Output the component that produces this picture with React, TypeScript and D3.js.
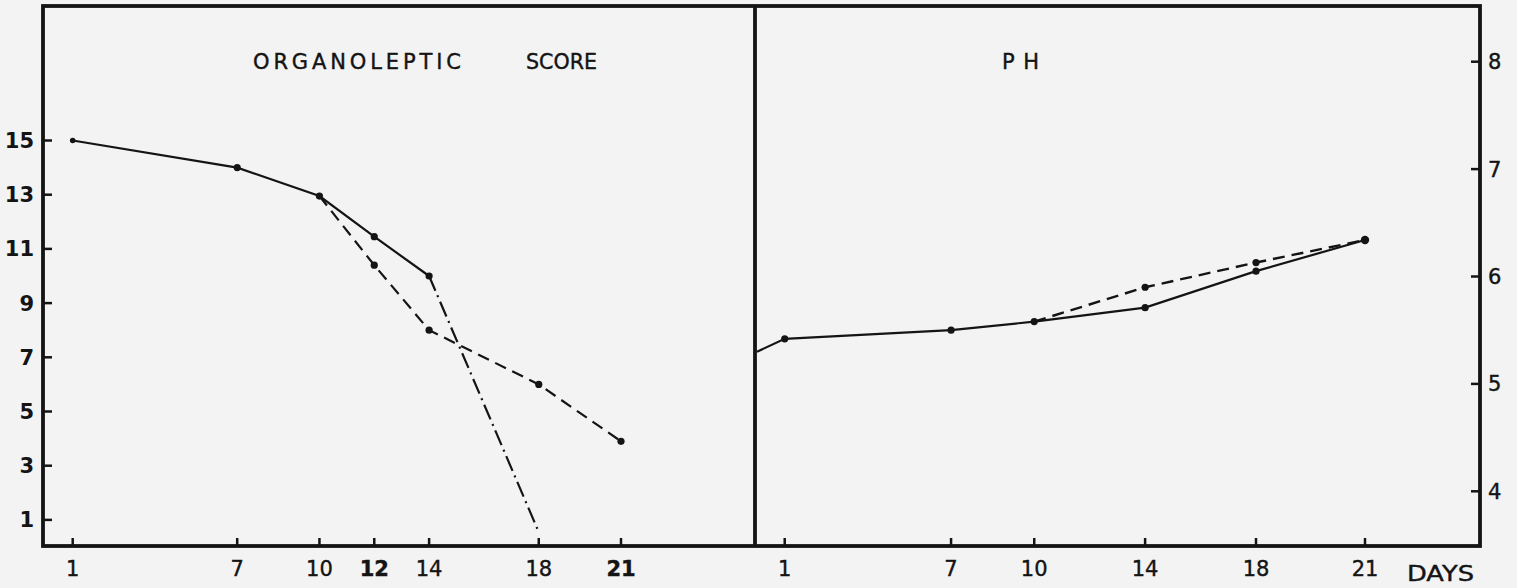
import React from "react";
import * as d3 from "d3";

// ---- data ----
const scoreSolidDays = [1, 7, 10, 12, 14];
const scoreSolid = [15, 14, 12.95, 11.45, 10];
const scoreDashedDays = [10, 12, 14, 18, 21];
const scoreDashed = [12.95, 10.4, 8, 6, 3.9];
const scoreDashDotDays = [14, 18];
const scoreDashDot = [10, 0.55];

const phSolidDays = [0, 1, 7, 10, 14, 18, 21];
const phSolid = [5.3, 5.42, 5.5, 5.58, 5.71, 6.05, 6.34];
const phDashedDays = [10, 14, 18, 21];
const phDashed = [5.58, 5.9, 6.13, 6.34];

const leftTickDays = [1, 7, 10, 12, 14, 18, 21];
const leftBoldDays = [12, 21];
const leftTickScores = [1, 3, 5, 7, 9, 11, 13, 15];
const rightTickDays = [1, 7, 10, 14, 18, 21];
const rightTickPh = [4, 5, 6, 7, 8];

const titleLeftA = "ORGANOLEPTIC";
const titleLeftB = "SCORE";
const titleRight = "PH";
const xAxisTitle = "DAYS";

// ---- layout ----
const W = 1517;
const H = 588;
const frameL = 43;
const frameR = 1480;
const frameT = 6;
const frameB = 546;
const divider = 755;
const INK = "#141414";
const FONT = "'DejaVu Sans', 'Liberation Sans', Arial, sans-serif";

export default function App() {
  const xL = d3.scaleLinear().domain([0, 21]).range([45.3, 621]);
  const yL = d3.scaleLinear().domain([0, 20]).range([547, 5]);
  const xR = d3.scaleLinear().domain([0, 18, 21]).range([757, 1256, 1365]);
  const yR = d3.scaleLinear().domain([3.5, 8.5]).range([545, 8]);

  const lineL = d3
    .line<[number, number]>()
    .x((d) => xL(d[0]))
    .y((d) => yL(d[1]));
  const lineR = d3
    .line<[number, number]>()
    .x((d) => xR(d[0]))
    .y((d) => yR(d[1]));

  const zip = (a: number[], b: number[]) =>
    a.map((v, i) => [v, b[i]] as [number, number]);

  const sSolid = zip(scoreSolidDays, scoreSolid);
  const sDashed = zip(scoreDashedDays, scoreDashed);
  const sDashDot = zip(scoreDashDotDays, scoreDashDot);
  const pSolid = zip(phSolidDays, phSolid);
  const pDashed = zip(phDashedDays, phDashed);

  const labelStyle: React.CSSProperties = { fontFamily: FONT, fontSize: 21 };
  const titleStyle: React.CSSProperties = { fontFamily: FONT, fontSize: 21 };
  const heavy = { stroke: INK, strokeWidth: 0.4 };

  return (
    <svg
      width={W}
      height={H}
      viewBox={`0 0 ${W} ${H}`}
      style={{ position: "absolute", left: 0, top: 0, background: "#f3f3f3" }}
    >
      <rect x={0} y={0} width={W} height={H} fill="#f3f3f3" />

      {/* frame */}
      <rect
        x={frameL}
        y={frameT}
        width={frameR - frameL}
        height={frameB - frameT}
        fill="none"
        stroke={INK}
        strokeWidth={3.8}
      />
      <line x1={divider} x2={divider} y1={frameT} y2={frameB} stroke={INK} strokeWidth={3.8} />

      {/* titles */}
      <text x={253} y={69} textLength={208} lengthAdjust="spacing" fill={INK} {...heavy} style={titleStyle}>
        {titleLeftA}
      </text>
      <text x={526} y={69} textLength={71} lengthAdjust="spacingAndGlyphs" fill={INK} {...heavy} style={titleStyle}>
        {titleLeftB}
      </text>
      <text x={1002} y={69} textLength={37} lengthAdjust="spacing" fill={INK} {...heavy} style={titleStyle}>
        {titleRight}
      </text>

      {/* left y ticks */}
      {leftTickScores.map((v) => (
        <g key={"ly" + v}>
          <line x1={frameL} x2={frameL + 9} y1={yL(v)} y2={yL(v)} stroke={INK} strokeWidth={2.5} />
          <text x={34} y={yL(v)} dy="0.36em" textAnchor="end" fill={INK} fontWeight={700} style={labelStyle}>
            {v}
          </text>
        </g>
      ))}

      {/* left x ticks */}
      {leftTickDays.map((d) => (
        <g key={"lx" + d}>
          <line x1={xL(d)} x2={xL(d)} y1={frameB} y2={frameB - 8} stroke={INK} strokeWidth={2.5} />
          <text
            x={xL(d)}
            y={576}
            textAnchor="middle"
            fill={INK}
            fontWeight={leftBoldDays.includes(d) ? 700 : 400}
            {...heavy}
            style={labelStyle}
          >
            {d}
          </text>
        </g>
      ))}

      {/* right x ticks */}
      {rightTickDays.map((d) => (
        <g key={"rx" + d}>
          <line x1={xR(d)} x2={xR(d)} y1={frameB} y2={frameB - 8} stroke={INK} strokeWidth={2.5} />
          <text x={xR(d)} y={576} textAnchor="middle" fill={INK} {...heavy} style={labelStyle}>
            {d}
          </text>
        </g>
      ))}
      <text x={1407} y={581} textLength={67} lengthAdjust="spacingAndGlyphs" fill={INK} {...heavy} style={labelStyle}>
        {xAxisTitle}
      </text>

      {/* right y ticks */}
      {rightTickPh.map((v) => (
        <g key={"ry" + v}>
          <line x1={frameR} x2={frameR - 9} y1={yR(v)} y2={yR(v)} stroke={INK} strokeWidth={2.5} />
          <text x={1488} y={yR(v)} dy="0.36em" textAnchor="start" fill={INK} {...heavy} style={labelStyle}>
            {v}
          </text>
        </g>
      ))}

      {/* organoleptic lines */}
      <path d={lineL(sSolid) || ""} fill="none" stroke={INK} strokeWidth={2.2} />
      <path d={lineL(sDashed) || ""} fill="none" stroke={INK} strokeWidth={2.2} strokeDasharray="12 7" />
      <path d={lineL(sDashDot) || ""} fill="none" stroke={INK} strokeWidth={2.2} strokeDasharray="16 5 2 5" />
      {sSolid.map((d, i) => (
        <circle key={"ss" + i} cx={xL(d[0])} cy={yL(d[1])} r={i === 0 ? 2.8 : 3.6} fill={INK} />
      ))}
      {sDashed.slice(1).map((d, i) => (
        <circle key={"sd" + i} cx={xL(d[0])} cy={yL(d[1])} r={3.6} fill={INK} />
      ))}

      {/* pH lines */}
      <path d={lineR(pSolid) || ""} fill="none" stroke={INK} strokeWidth={2.2} />
      <path d={lineR(pDashed) || ""} fill="none" stroke={INK} strokeWidth={2.4} strokeDasharray="12 7" />
      {pSolid.slice(1).map((d, i) => (
        <circle key={"ps" + i} cx={xR(d[0])} cy={yR(d[1])} r={i === pSolid.length - 2 ? 4.2 : 3.6} fill={INK} />
      ))}
      {pDashed.slice(1, 3).map((d, i) => (
        <circle key={"pd" + i} cx={xR(d[0])} cy={yR(d[1])} r={3.6} fill={INK} />
      ))}
    </svg>
  );
}
